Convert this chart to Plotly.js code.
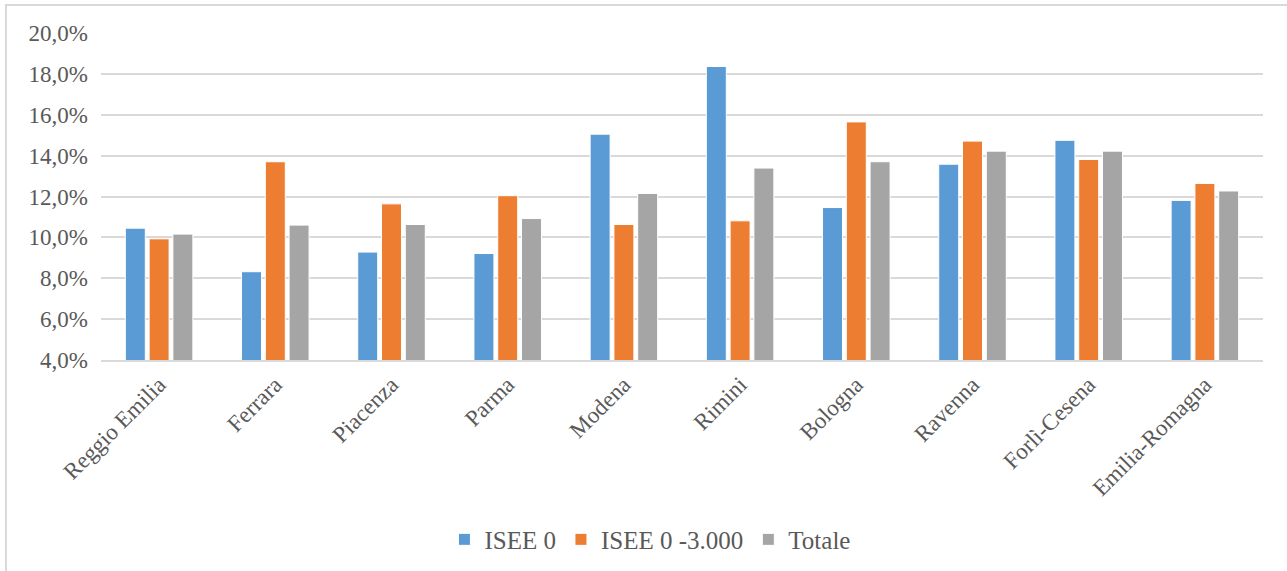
<!DOCTYPE html>
<html>
<head>
<meta charset="utf-8">
<script src="https://cdn.plot.ly/plotly-3.0.1.min.js"></script>
<style>html,body{margin:0;padding:0;background:#fff;}#chart{width:1287px;height:571px;}</style>
</head>
<body>
<div id="chart"></div>
<script>
const categories = ["Reggio Emilia","Ferrara","Piacenza","Parma","Modena","Rimini","Bologna","Ravenna","Forlì-Cesena","Emilia-Romagna"];
const isee0 = [10.45, 8.32, 9.28, 9.21, 15.05, 18.36, 11.46, 13.58, 14.75, 11.81];
const isee0_3000 = [9.93, 13.70, 11.64, 12.04, 10.63, 10.81, 15.65, 14.71, 13.81, 12.64];
const totale = [10.16, 10.60, 10.63, 10.92, 12.15, 13.39, 13.70, 14.22, 14.22, 12.27];
const seriesNames = ["ISEE 0", "ISEE 0 -3.000", "Totale"];
const yTickVals = [4,6,8,10,12,14,16,18,20];
const yTickText = ["4,0%","6,0%","8,0%","10,0%","12,0%","14,0%","16,0%","18,0%","20,0%"];

const colors = ["#5b9bd5", "#ed7d31", "#a5a5a5"];
const font = "Liberation Serif, Times New Roman, serif";
const data = [isee0, isee0_3000, totale].map((vals, i) => ({
  type: "bar",
  x: categories,
  y: vals,
  base: 0,
  name: seriesNames[i],
  marker: {color: colors[i], line: {color: "#ffffff", width: 1}},
  hoverinfo: "none"
}));

const layout = {
  width: 1287, height: 571,
  margin: {l: 101, r: 24, t: 33, b: 211},
  paper_bgcolor: "#ffffff", plot_bgcolor: "#ffffff",
  barmode: "group", bargap: 0.386, bargroupgap: 0.16,
  font: {family: font, size: 22, color: "#595959"},
  xaxis: {
    tickangle: -45, showgrid: false, zeroline: false,
    showline: true, linecolor: "#d9d9d9", linewidth: 2,
    ticks: "", tickfont: {family: font, size: 23, color: "#595959"}
  },
  yaxis: {
    range: [4, 20], tickvals: yTickVals, ticktext: yTickText,
    showgrid: true, gridcolor: "#d9d9d9", gridwidth: 2,
    zeroline: false, showline: false, ticks: "",
    ticklabelstandoff: 12,
    tickfont: {family: font, size: 23, color: "#595959"}
  },
  legend: {
    orientation: "h", xref: "container", yref: "container",
    x: 0.505, xanchor: "center", y: 0.055, yanchor: "middle",
    font: {family: font, size: 25, color: "#595959"},
    itemwidth: 30
  },
  showlegend: true,
  shapes: [{
    type: "rect", xref: "paper", yref: "paper",
    x0: -0.0818, x1: 1.2, y0: -1.2, y1: 1.0856,
    line: {color: "#d9d9d9", width: 2}, fillcolor: "rgba(0,0,0,0)", layer: "below"
  }]
};

Plotly.newPlot("chart", data, layout, {displayModeBar: false, staticPlot: true});
</script>
</body>
</html>
